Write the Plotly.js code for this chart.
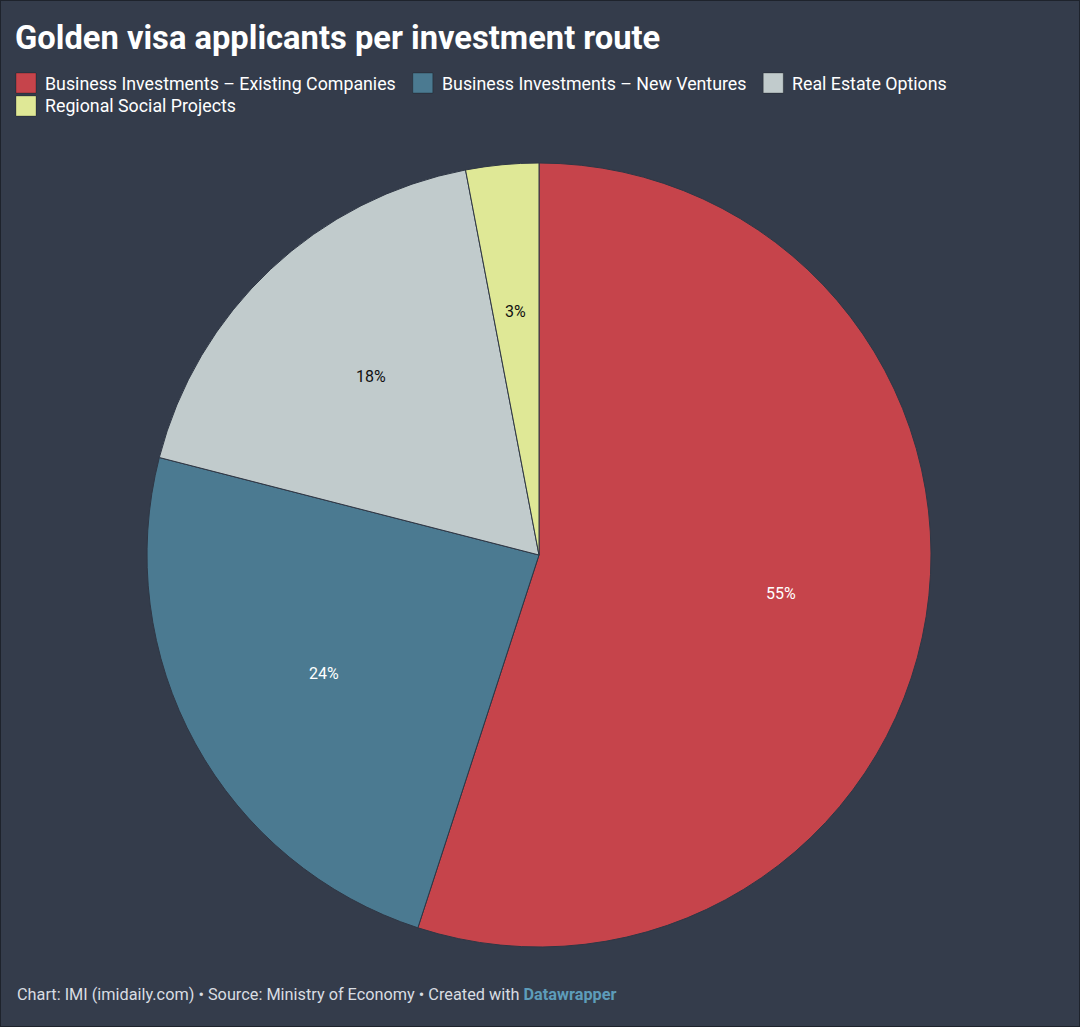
<!DOCTYPE html>
<html>
<head>
<meta charset="utf-8">
<script src="https://cdn.plot.ly/plotly-3.0.1.min.js"></script>
<style>
html,body{margin:0;padding:0;background:#343c4b;}
#chart{width:1080px;height:1027px;}
</style>
</head>
<body>
<div id="chart"></div>
<script>
// ---- data ----
const categories = [
  "Business Investments – Existing Companies",
  "Business Investments – New Ventures",
  "Real Estate Options",
  "Regional Social Projects"
];
const shares = [55, 24, 18, 3];
const colors = ["#c6444b", "#4b7a91", "#c1cbcc", "#dfe896"];
const labelColors = ["#ffffff", "#ffffff", "#111111", "#111111"];
const titleText = "Golden visa applicants per investment route";
const footerText = "Chart: IMI (imidaily.com) • Source: Ministry of Economy • Created with <b><span style='color:#5d9cba'>Datawrapper</span></b>";

// ---- layout geometry ----
const W = 1080, H = 1027;
const BG = "#343c4b";
const cxPx = 539, cyPx = 555, R = 392;

const annotations = [];
const shapes = [];

// title
annotations.push({
  text: "<b>" + titleText + "</b>", xref: "paper", yref: "paper",
  x: 13 / W, y: 1 - 38 / H, xanchor: "left", yanchor: "middle",
  showarrow: false, font: {family: "Roboto", size: 32.7, color: "#ffffff"}
});

// legend (custom, measured)
const ctx = document.createElement("canvas").getContext("2d");
const legFont = 17.8;
ctx.font = legFont + "px Roboto";
let lx = 16, ly = 83;
const sw = 20, gapSw = 8, gapItem = 18, maxX = W - 16;
categories.forEach((c, i) => {
  const tw = ctx.measureText(c).width;
  if (lx + sw + gapSw + tw > maxX) { lx = 16; ly += 23; }
  shapes.push({
    type: "rect", xref: "paper", yref: "paper",
    x0: lx / W, x1: (lx + sw) / W, y0: 1 - (ly - sw / 2) / H, y1: 1 - (ly + sw / 2) / H,
    fillcolor: colors[i], line: {color: "rgba(0,0,0,0.25)", width: 1}
  });
  annotations.push({
    text: c, xref: "paper", yref: "paper",
    x: (lx + sw + gapSw - 1) / W, y: 1 - ly / H, xanchor: "left", yanchor: "middle",
    showarrow: false, font: {family: "Roboto", size: legFont, color: "#ffffff"}
  });
  lx += sw + gapSw + tw + gapItem;
});

// pie labels at fixed radius, computed from the data
const total = shares.reduce((a, b) => a + b, 0);
let cum = 0;
shares.forEach((v, i) => {
  const mid = (cum + v / 2) / total * 2 * Math.PI;
  cum += v;
  const r = 0.625 * R;
  annotations.push({
    text: Math.round(v / total * 100) + "%", xref: "paper", yref: "paper",
    x: (cxPx + r * Math.sin(mid)) / W, y: 1 - (cyPx - r * Math.cos(mid)) / H,
    xanchor: "center", yanchor: "middle", showarrow: false,
    font: {family: "Roboto", size: 16, color: labelColors[i]}
  });
});

// footer
annotations.push({
  text: footerText, xref: "paper", yref: "paper",
  x: 15 / W, y: 1 - 994 / H, xanchor: "left", yanchor: "middle",
  showarrow: false, font: {family: "Roboto", size: 16.3, color: "#d9dde2"}
});

// border
shapes.push({type: "rect", xref: "paper", yref: "paper", x0: 0, x1: 1, y0: 0, y1: 1,
  line: {color: "#1e232c", width: 2}, fillcolor: "rgba(0,0,0,0)"});

const trace = {
  type: "pie",
  labels: categories,
  values: shares,
  sort: false,
  direction: "clockwise",
  rotation: 0,
  marker: {colors: colors, line: {color: "#2f3745", width: 1}},
  textinfo: "none",
  hoverinfo: "label+percent",
  showlegend: false,
  domain: {
    x: [(cxPx - R) / W, (cxPx + R) / W],
    y: [1 - (cyPx + R) / H, 1 - (cyPx - R) / H]
  }
};

const layout = {
  width: W, height: H,
  margin: {l: 0, r: 0, t: 0, b: 0},
  paper_bgcolor: BG, plot_bgcolor: BG,
  showlegend: false,
  annotations: annotations,
  shapes: shapes,
  font: {family: "Roboto"}
};

Plotly.newPlot("chart", [trace], layout, {displayModeBar: false, staticPlot: true});
</script>
</body>
</html>
